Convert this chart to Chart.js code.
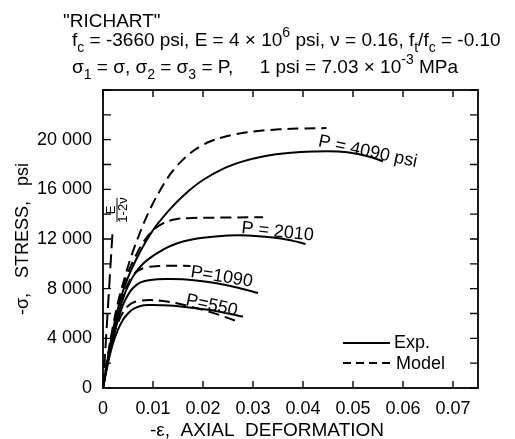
<!DOCTYPE html>
<html>
<head>
<meta charset="utf-8">
<script src="https://cdn.jsdelivr.net/npm/chart.js@4.4.0/dist/chart.umd.min.js"></script>
<style>
    html, body { margin: 0; padding: 0; background: #fff; }
    #wrap { width: 515px; height: 439px; }
</style>
</head>
<body>
<div id="wrap"><canvas id="richart"></canvas></div>
<script>
// axes
const xTicks = [0, 0.01, 0.02, 0.03, 0.04, 0.05, 0.06, 0.07];
const yTickLabels = [0, 4000, 8000, 12000, 16000, 20000];
const yStep = 2000;
const xMax = 0.075;
const yMax = 24000;

// P = 550 psi
const exp550Strain = [0, 0.001, 0.002, 0.003, 0.004, 0.005, 0.006, 0.0075, 0.009, 0.012, 0.016, 0.021, 0.025, 0.028];
const exp550Stress = [0, 2000, 3600, 4700, 5500, 6000, 6350, 6600, 6680, 6660, 6550, 6300, 6000, 5750];
const mod550Strain = [0, 0.001, 0.002, 0.003, 0.004, 0.005, 0.006, 0.0075, 0.0095, 0.012, 0.015, 0.018, 0.022, 0.027];
const mod550Stress = [0, 2200, 4000, 5250, 6100, 6600, 6880, 7030, 7080, 7000, 6800, 6500, 6050, 5350];

// P = 1090 psi
const exp1090Strain = [0, 0.001, 0.002, 0.003, 0.004, 0.005, 0.006, 0.0075, 0.0095, 0.013, 0.016, 0.0195, 0.0227, 0.027, 0.031];
const exp1090Stress = [0, 2200, 4000, 5500, 6700, 7500, 8050, 8500, 8700, 8780, 8750, 8620, 8430, 8080, 7650];
const mod1090Strain = [0, 0.001, 0.002, 0.003, 0.004, 0.005, 0.006, 0.007, 0.0085, 0.011, 0.0145, 0.0175];
const mod1090Stress = [0, 2400, 4400, 6100, 7400, 8400, 9050, 9450, 9700, 9820, 9850, 9820];

// P = 2010 psi
const exp2010Strain = [0, 0.001, 0.002, 0.003, 0.004, 0.005, 0.0065, 0.008, 0.0095, 0.011, 0.013, 0.016, 0.02, 0.025, 0.029, 0.0345, 0.038, 0.0405];
const exp2010Stress = [0, 2300, 4300, 5900, 7200, 8200, 9300, 10000, 10500, 10900, 11350, 11800, 12100, 12280, 12280, 12100, 11850, 11600];
const mod2010Strain = [0, 0.001, 0.002, 0.003, 0.004, 0.005, 0.006, 0.008, 0.01, 0.012, 0.014, 0.017, 0.022, 0.032];
const mod2010Stress = [0, 2500, 4700, 6600, 8100, 9300, 10200, 11700, 12700, 13250, 13550, 13680, 13720, 13750];

// P = 4090 psi
const exp4090Strain = [0, 0.001, 0.002, 0.003, 0.004, 0.005, 0.0065, 0.008, 0.0095, 0.011, 0.0135, 0.0165, 0.02, 0.024, 0.028, 0.032, 0.037, 0.042, 0.047, 0.051, 0.054, 0.056];
const exp4090Stress = [0, 2500, 4700, 6400, 7800, 8900, 10250, 11400, 12400, 13250, 14450, 15650, 16750, 17650, 18250, 18650, 18920, 19050, 19050, 18850, 18550, 18250];
const mod4090Strain = [0, 0.001, 0.002, 0.003, 0.004, 0.0054, 0.0069, 0.0084, 0.0099, 0.0114, 0.0129, 0.0144, 0.0159, 0.0174, 0.0194, 0.0214, 0.024, 0.0273, 0.031, 0.0353, 0.04, 0.0447];
const mod4090Stress = [0, 2700, 5000, 6900, 8400, 10300, 12000, 13500, 14800, 15900, 16900, 17700, 18350, 18900, 19450, 19850, 20200, 20500, 20700, 20830, 20900, 20930];

// initial slope E/(1-2v)
const bulkStrain = [0, 0.0019];
const bulkStress = [0, 12500];

const FONT = '"Liberation Sans", Arial, sans-serif';

function pts(xs, ys) {
    return xs.map((x, i) => ({ x: x, y: ys[i] }));
}

function fmtThousands(v) {
    if (v < 1000) return String(v);
    var rest = String(v % 1000);
    while (rest.length < 3) rest = "0" + rest;
    return Math.floor(v / 1000) + " " + rest;
}

function curve(xs, ys, dashed) {
    return {
        data: pts(xs, ys),
        borderColor: "#000",
        borderWidth: 2,
        borderDash: dashed ? [11, 6] : [],
        pointRadius: 0,
        fill: false,
        tension: 0.4,
    };
}

// draws text pieces with sub/superscripts
function drawRich(ctx, x, y, parts, size) {
    parts.forEach(([t, m]) => {
        var fs = m === "n" ? size : Math.round(size * 0.72);
        ctx.font = fs + "px " + FONT;
        var dy = m === "sub" ? size * 0.3 : m === "sup" ? -size * 0.45 : 0;
        ctx.fillText(t, x, y + dy);
        x += ctx.measureText(t).width;
    });
}

const decorations = {
    id: "decorations",
    afterDraw(chart) {
        const ctx = chart.ctx;
        const area = chart.chartArea;
        const xs = chart.scales.x;
        const ys = chart.scales.y;
        ctx.save();
        ctx.strokeStyle = "#000";
        ctx.fillStyle = "#000";

        // frame
        ctx.lineWidth = 1.8;
        ctx.strokeRect(area.left, area.top, area.right - area.left, area.bottom - area.top);

        // inward ticks on all four sides
        ctx.lineWidth = 1.4;
        ctx.beginPath();
        xs.ticks.forEach((t) => {
            var px = xs.getPixelForValue(t.value);
            ctx.moveTo(px, area.bottom); ctx.lineTo(px, area.bottom - 7);
            ctx.moveTo(px, area.top); ctx.lineTo(px, area.top + 7);
        });
        ys.ticks.forEach((t) => {
            var py = ys.getPixelForValue(t.value);
            ctx.moveTo(area.left, py); ctx.lineTo(area.left + 8, py);
            ctx.moveTo(area.right, py); ctx.lineTo(area.right - 8, py);
        });
        ctx.stroke();

        // heading
        ctx.textAlign = "left";
        ctx.textBaseline = "alphabetic";
        drawRich(ctx, 63, 27, [['"RICHART"', "n"]], 19);
        drawRich(ctx, 72, 46, [
            ["f", "n"], ["c", "sub"], [" = -3660 psi, E = 4 \u00d7 10", "n"], ["6", "sup"],
            [" psi, \u03bd = 0.16, f", "n"], ["t", "sub"], ["/f", "n"], ["c", "sub"], [" = -0.10", "n"],
        ], 19);
        drawRich(ctx, 72, 73, [
            ["\u03c3", "n"], ["1", "sub"], [" = \u03c3, \u03c3", "n"], ["2", "sub"], [" = \u03c3", "n"], ["3", "sub"],
            [" = P,     1 psi = 7.03 \u00d7 10", "n"], ["-3", "sup"], [" MPa", "n"],
        ], 19);

        // x axis title
        ctx.font = "19px " + FONT;
        ctx.textAlign = "center";
        ctx.fillText("-\u03b5,  AXIAL  DEFORMATION", 267, 436);

        // curve labels
        function label(text, vx, vy, deg) {
            ctx.save();
            ctx.translate(xs.getPixelForValue(vx), ys.getPixelForValue(vy));
            ctx.rotate(deg * Math.PI / 180);
            ctx.font = "18px " + FONT;
            ctx.textAlign = "left";
            ctx.fillText(text, 0, 0);
            ctx.restore();
        }
        label("P = 4090 psi", 0.0429, 19480, 12);
        label("P = 2010", 0.0276, 12480, 6);
        label("P=1090", 0.0174, 8940, 9);
        label("P=550", 0.0164, 6680, 12);

        // E / (1-2v) fraction, rotated
        ctx.save();
        ctx.translate(118, 210);
        ctx.rotate(-Math.PI / 2);
        ctx.font = "13px " + FONT;
        ctx.textAlign = "center";
        ctx.textBaseline = "alphabetic";
        ctx.fillText("E", 0, -3);
        ctx.fillText("1-2\u03bd", 0, 9);
        ctx.lineWidth = 1;
        ctx.beginPath();
        ctx.moveTo(-12, -1); ctx.lineTo(12, -1);
        ctx.stroke();
        ctx.restore();

        // legend
        ctx.lineWidth = 2;
        ctx.beginPath();
        ctx.setLineDash([]);
        ctx.moveTo(343, 343); ctx.lineTo(390, 343);
        ctx.stroke();
        ctx.beginPath();
        ctx.setLineDash([8, 5]);
        ctx.moveTo(343, 363); ctx.lineTo(390, 363);
        ctx.stroke();
        ctx.setLineDash([]);
        ctx.font = "18px " + FONT;
        ctx.textAlign = "left";
        ctx.textBaseline = "middle";
        ctx.fillText("Exp.", 394, 343);
        ctx.fillText("Model", 396, 364);

        ctx.restore();
    },
};

const bulk = curve(bulkStrain, bulkStress, true);
bulk.borderDash = [14, 6];
bulk.tension = 0;

new Chart(document.getElementById("richart"), {
    type: "line",
    data: {
        datasets: [
            curve(exp550Strain, exp550Stress, false),
            curve(mod550Strain, mod550Stress, true),
            curve(exp1090Strain, exp1090Stress, false),
            curve(mod1090Strain, mod1090Stress, true),
            curve(exp2010Strain, exp2010Stress, false),
            curve(mod2010Strain, mod2010Stress, true),
            curve(exp4090Strain, exp4090Stress, false),
            curve(mod4090Strain, mod4090Stress, true),
            bulk,
        ],
    },
    options: {
        responsive: true,
        maintainAspectRatio: false,
        animation: false,
        layout: { padding: { top: 90, right: 37, left: 0, bottom: 0 } },
        plugins: { legend: { display: false }, tooltip: { enabled: false } },
        scales: {
            x: {
                type: "linear",
                min: 0,
                max: xMax,
                grid: { display: false },
                border: { display: false },
                afterBuildTicks: (s) => {
                    s.ticks = xTicks.map((v) => ({ value: v }));
                },
                afterFit: (s) => { s.height = 51; },
                ticks: {
                    color: "#000",
                    padding: 2,
                    maxRotation: 0,
                    autoSkip: false,
                    font: { family: FONT, size: 18 },
                    callback: (v) => (v === 0 ? "0" : v.toFixed(2)),
                },
            },
            y: {
                type: "linear",
                min: 0,
                max: yMax,
                grid: { display: false },
                border: { display: false },
                afterFit: (s) => { s.width = 103; },
                title: {
                    display: true,
                    text: "-\u03c3,   STRESS,   psi",
                    color: "#000",
                    font: { family: FONT, size: 18 },
                    padding: { top: 12, bottom: 0 },
                },
                ticks: {
                    color: "#000",
                    padding: 3,
                    stepSize: yStep,
                    autoSkip: false,
                    font: { family: FONT, size: 18 },
                    callback: (v) => (yTickLabels.includes(v) ? fmtThousands(v) : ""),
                },
            },
        },
    },
    plugins: [decorations],
});
</script>
</body>
</html>
